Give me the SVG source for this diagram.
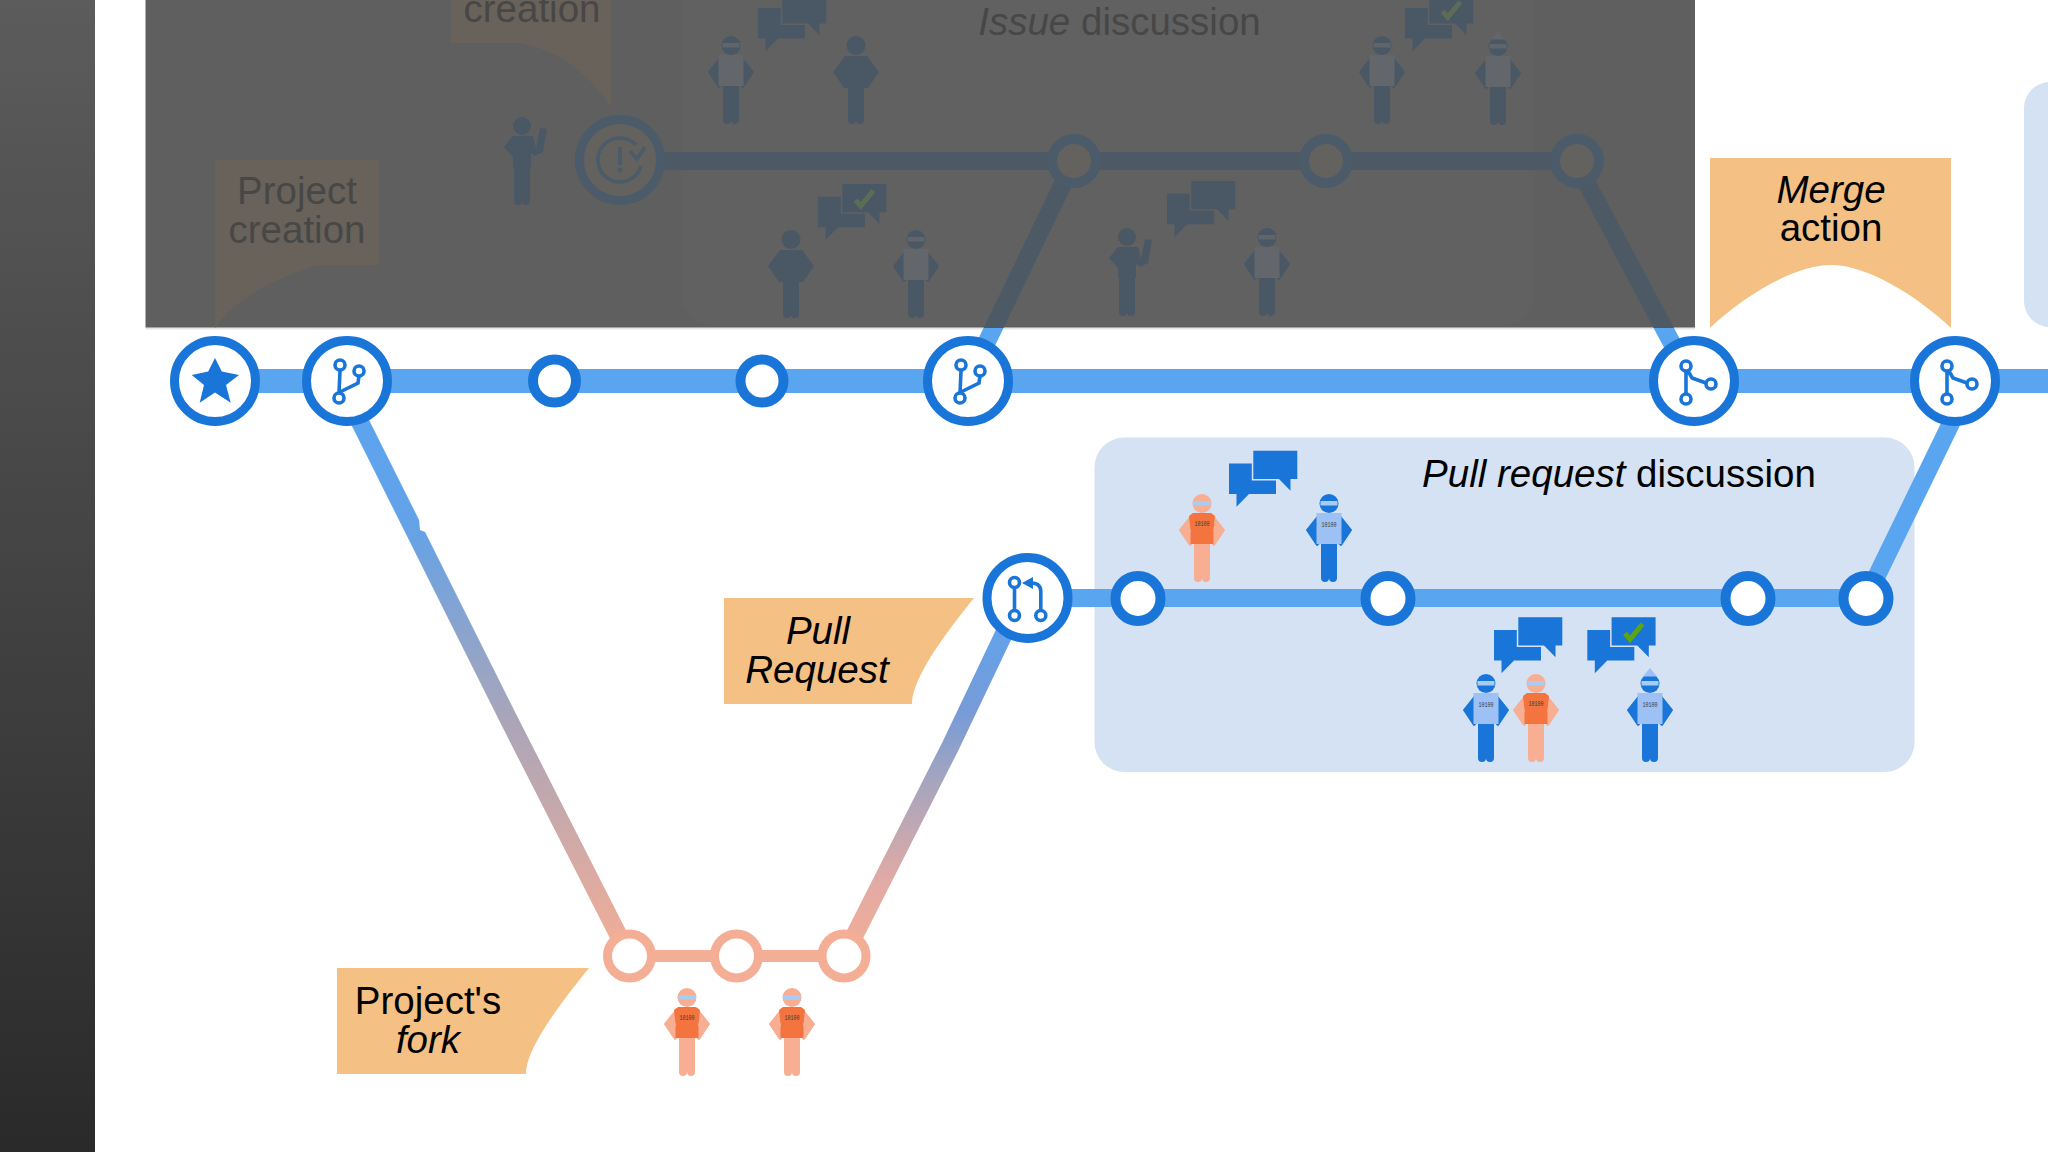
<svg xmlns="http://www.w3.org/2000/svg" width="2048" height="1152" viewBox="0 0 2048 1152">
<style>
text{font-family:"Liberation Sans",Arial,sans-serif;font-size:38.500px;fill:#000;text-anchor:middle}
text.k{fill:#474747}
.i{font-style:italic}
.lab{fill:#f4c084}
.labd{fill:#68625a}
.panel{fill:#d5e2f3}
.line{fill:none;stroke:#5aa5f0;stroke-width:18}
.lined{fill:none;stroke:#4d5a65;stroke-width:18}
.main{fill:none;stroke:#5aa5f0;stroke-width:24}
.big{fill:#fff;stroke:#1976d8;stroke-width:9}
.bigd{fill:#64625e;stroke:#4c5b69;stroke-width:9}
.small{fill:#fff;stroke:#1976d8;stroke-width:10}
.smalld{fill:#64625e;stroke:#4c5b69;stroke-width:10}
.peach{fill:#fff;stroke:#f4ae96;stroke-width:9}
.ic{fill:none;stroke:#1976d8;stroke-width:3.600}
.icx{fill:none;stroke:#4c5b69;stroke-width:3.600}
.icd{fill:#fff;stroke:#1976d8;stroke-width:3.600}
.blue{fill:#1976d8}
.db{fill:#4a5866}
.arm{fill:#1976d8;stroke:#1976d8;stroke-width:2;stroke-linejoin:round}
.armd{fill:#4a5866;stroke:#4a5866;stroke-width:2;stroke-linejoin:round}
.skin{fill:#f7ae93}
.arms{fill:#f7ae93;stroke:#f7ae93;stroke-width:2;stroke-linejoin:round}
.tb{fill:#9dc0f5}
.dt{fill:#63666b}
.gl{fill:#a8cdf5}
.gld{fill:#5f656b}
.to{fill:#f3743f}
text.code{font-family:"Liberation Mono",monospace;font-size:7px;fill:#3a3a3a}
.bub{fill:#1976d8;stroke:#d5e2f3;stroke-width:3;paint-order:stroke}
.bubd{fill:#4a5866;stroke:#616161;stroke-width:3;paint-order:stroke}
.chk{fill:none;stroke:#5fa50f;stroke-width:5}
.chkd{fill:none;stroke:#5d6c55;stroke-width:5}
</style>
<defs>
<linearGradient id="band" x1="0" y1="0" x2="0" y2="1"><stop offset="0" stop-color="#5c5c5c"/><stop offset="1" stop-color="#2a2a2a"/></linearGradient>
<linearGradient id="gr1" gradientUnits="userSpaceOnUse" x1="0" y1="381" x2="0" y2="956"><stop offset="0" stop-color="#5aa5f0"/><stop offset=".24" stop-color="#62a2e8"/><stop offset=".59" stop-color="#aaa5b9"/><stop offset="1" stop-color="#f4ae96"/></linearGradient>
<linearGradient id="gr2" gradientUnits="userSpaceOnUse" x1="0" y1="598" x2="0" y2="956"><stop offset="0" stop-color="#5aa5f0"/><stop offset=".32" stop-color="#789bd7"/><stop offset=".51" stop-color="#a5a5be"/><stop offset=".79" stop-color="#e1aaa5"/><stop offset="1" stop-color="#f4ae96"/></linearGradient>
<linearGradient id="gr3" gradientUnits="userSpaceOnUse" x1="0" y1="161" x2="0" y2="381"><stop offset=".757" stop-color="#4d5a65"/><stop offset=".757" stop-color="#5aa5f0"/></linearGradient>
<path id="legs" d="M-8,50H8V84A4,4 0 0 1 0,84A4,4 0 0 1 -8,84Z"/>
<path id="arms2" d="M-10,21L-22,36L-12,51L-9,48L-13,36L-8,27ZM10,21L22,36L12,51L9,48L13,36L8,27Z"/>
<g id="p-blue">
<use href="#legs" class="blue"/>
<use href="#arms2" class="arm"/>
<path class="tb" d="M-12.500,19H12.500V50H-12.500Z"/>
<circle class="blue" cx="0" cy="9.500" r="9.500"/>
<rect class="gl" x="-8.500" y="7" width="17" height="4.500"/>
<text class="code" x="0" y="33" textLength="15" lengthAdjust="spacingAndGlyphs">10100</text>
</g>
<g id="p-hat"><use href="#p-blue"/><path class="tb" d="M0,-6L7,2.500H-7Z"/></g>
<g id="p-orange">
<path class="skin" d="M-8,48H8V84A4,4 0 0 1 0,84A4,4 0 0 1 -8,84Z"/>
<use href="#arms2" class="arms"/>
<path class="to" d="M-9,19H9L13,22L11.500,36V50H-11.500V36L-13,22Z"/>
<circle class="skin" cx="0" cy="9.500" r="9.500"/>
<rect class="gl" x="-8.500" y="7" width="17" height="4.500"/>
<text class="code" x="0" y="32" textLength="15" lengthAdjust="spacingAndGlyphs">10100</text>
</g>
<g id="d-blue">
<use href="#legs" class="db"/>
<use href="#arms2" class="armd"/>
<path class="dt" d="M-12.500,19H12.500V50H-12.500Z"/>
<circle class="db" cx="0" cy="9.500" r="9.500"/>
<rect class="gld" x="-8.500" y="7" width="17" height="4.500"/>
</g>
<g id="d-hat"><use href="#d-blue"/><path class="dt" d="M0,-6L7,2.500H-7Z"/></g>
<g id="d-plain">
<use href="#legs" class="db"/>
<path class="db" d="M-11,20H11L23,36L12,52H-12L-23,36Z"/>
<circle class="db" cx="0" cy="9.500" r="9.500"/>
</g>
<g id="d-raise">
<path class="db" d="M-8,42H8V84A4,4 0 0 1 0,84A4,4 0 0 1 -8,84Z"/>
<path class="db" d="M-9,19H11L14,31L18,11L25,12L21,35L13,39L9,36V50H-9V40L-18,30Z"/>
<circle class="db" cx="0" cy="9" r="9"/>
</g>
<g id="bub-plain">
<path class="bub" d="M0,12.700H47V43.300H20L7.500,56V43.300H0Z"/>
<path class="bub" d="M24.300,0H68.300V28.300H61.500V40L50,28.300H24.300Z"/>
</g>
<g id="bub-ok">
<use href="#bub-plain"/>
<path class="chk" d="M37.700,16L42.700,22L55.300,6.700"/>
</g>
<g id="dbub-plain">
<path class="bubd" d="M0,12.700H47V43.300H20L7.500,56V43.300H0Z"/>
<path class="bubd" d="M24.300,0H68.300V28.300H61.500V40L50,28.300H24.300Z"/>
</g>
<g id="dbub-ok">
<use href="#dbub-plain"/>
<path class="chkd" d="M37.700,16L42.700,22L55.300,6.700"/>
</g>
<g id="ic-branch">
<path class="ic" d="M-7,-10L-8,12M12,-5L11,2L-7,11"/>
<circle class="icd" cx="-7" cy="-16" r="5"/><circle class="icd" cx="12" cy="-10" r="5"/><circle class="icd" cx="-8" cy="17" r="5"/>
</g>
<g id="ic-merge">
<path class="ic" d="M-8,-10V12M-6,-10L-2,-3L12,2"/>
<circle class="icd" cx="-8" cy="-15" r="5"/><circle class="icd" cx="17" cy="3" r="5"/><circle class="icd" cx="-8" cy="18" r="5"/>
</g>
</defs>
<rect width="2048" height="1152" fill="#fff"/>
<rect id="band-left" width="95" height="1152" fill="url(#band)"/>
<g id="overlay">
<rect x="145.500" y="0" width="1549.500" height="327.500" fill="#5f5f5f"/>
<rect x="145.500" y="327.500" width="1549.500" height="2" fill="#000" fill-opacity=".1"/>
</g>

<g id="panels">
<rect id="issue-panel" x="681" y="-60" width="854" height="385" rx="30" fill="#616161"/>
<rect id="pr-panel" class="panel" x="1094.500" y="437.500" width="820" height="334.500" rx="30"/>
<rect id="next-panel" class="panel" x="2024" y="82" width="60" height="245" rx="26"/>
</g>

<g id="connectors">
<path class="main" d="M215,381H2048"/>
<path d="M344,390L509,720L629,956" fill="none" stroke="url(#gr1)" stroke-width="18"/>
<path d="M844,956L950,747L1021,598" fill="none" stroke="url(#gr2)" stroke-width="18"/>
<path d="M629,956H844" fill="none" stroke="#f4ae96" stroke-width="12"/>
<path class="line" d="M1027,598H1866"/>
<path class="line" d="M1866,598L1955,415"/>
<path class="lined" d="M620,161H1577"/>
<path d="M1074,161L968,381" fill="none" stroke="url(#gr3)" stroke-width="18"/>
<path d="M1575,161L1692,381" fill="none" stroke="url(#gr3)" stroke-width="18"/>
<path d="M419,519L420,530L425,532L429,530Z" fill="#fff"/>
</g>

<g id="label-project-creation"><path class="labd" d="M215,160H379V265H318C270,280 235,300 215,328Z"/><text class="k" x="297" y="204">Project</text><text class="k" x="297" y="243">creation</text></g>
<g id="label-issue-creation"><path class="labd" d="M451,-10H611V107C590,75 560,50 519,43H451Z"/><text class="k" x="532" y="22">creation</text></g>
<g id="label-merge"><path class="lab" d="M1710,158H1951V328C1916,295 1867,265 1831,265C1795,265 1745,295 1710,328Z"/><text class="i" x="1831" y="203">Merge</text><text x="1831" y="241">action</text></g>
<g id="label-pr"><path class="lab" d="M724,598H974C940,640 912,680 912,704H724Z"/><text class="i" x="818" y="644">Pull</text><text class="i" x="817" y="683">Request</text></g>
<g id="label-fork"><path class="lab" d="M337,968H589C555,1010 526,1050 526,1074H337Z"/><text x="428" y="1014">Project's</text><text class="i" x="428" y="1053">fork</text></g>
<text id="issue-title" class="k" x="1119.500" y="35"><tspan class="i">Issue</tspan> discussion</text>
<text id="pr-title" x="1619" y="487"><tspan class="i">Pull request</tspan> discussion</text>

<g id="node-start"><circle class="big" cx="215" cy="381" r="40.500"/><polygon class="blue" points="215,358 221.800,371.500 239,375 226,385 230.700,402.800 215,392.500 199.700,402.800 204,385 191.700,375 208.200,371.500"/></g>
<g id="node-fork-1"><circle class="big" cx="347" cy="381" r="40.500"/><use href="#ic-branch" x="347" y="381"/></g>
<g id="node-c1"><circle class="small" cx="554.500" cy="381" r="21.500"/></g>
<g id="node-c2"><circle class="small" cx="762" cy="381" r="21.500"/></g>
<g id="node-fork-2"><circle class="big" cx="968" cy="381" r="40.500"/><use href="#ic-branch" x="968" y="381"/></g>
<g id="node-merge-1"><circle class="big" cx="1694" cy="381" r="40.500"/><use href="#ic-merge" x="1694" y="381"/></g>
<g id="node-merge-2"><circle class="big" cx="1955" cy="381" r="40.500"/><use href="#ic-merge" x="1955" y="381"/></g>
<g id="node-f1"><circle class="peach" cx="629.500" cy="956" r="22"/></g>
<g id="node-f2"><circle class="peach" cx="736.500" cy="956" r="22"/></g>
<g id="node-f3"><circle class="peach" cx="844" cy="956" r="22"/></g>
<g id="node-pr"><circle class="big" cx="1027.500" cy="598" r="40.500"/>
<path class="ic" d="M-13,-10V12M13.300,12V-6Q13.300,-15 4,-15" transform="translate(1027.500 598)"/>
<path class="blue" d="M1022,583L1033,577V589Z"/>
<circle class="icd" cx="1014.500" cy="582.500" r="5"/><circle class="icd" cx="1014.500" cy="615.500" r="5"/><circle class="icd" cx="1040.800" cy="615.500" r="5"/></g>
<g id="node-p1"><circle class="small" cx="1138" cy="598.500" r="22.500"/></g>
<g id="node-p2"><circle class="small" cx="1388" cy="598.500" r="22.500"/></g>
<g id="node-p3"><circle class="small" cx="1748" cy="598.500" r="22.500"/></g>
<g id="node-p4"><circle class="small" cx="1866" cy="598.500" r="22.500"/></g>
<g id="node-issue"><circle class="bigd" cx="620" cy="160" r="40.500"/>
<path class="icx" d="M636,145A22,22 0 1 0 641,166"/>
<path class="icx" d="M630,151L637,159L645,147"/>
<rect x="618" y="147" width="4" height="18" fill="#4c5b69"/><circle cx="620" cy="170" r="2.500" fill="#4c5b69"/></g>
<g id="node-i1"><circle class="smalld" cx="1074" cy="161" r="22"/></g>
<g id="node-i2"><circle class="smalld" cx="1326" cy="161" r="22"/></g>
<g id="node-i3"><circle class="smalld" cx="1577" cy="161" r="22"/></g>

<g id="people">
<use href="#p-orange" x="687" y="988"/><use href="#p-orange" x="792" y="988"/>
<use href="#p-orange" x="1202" y="494"/><use href="#p-blue" x="1329" y="494"/>
<use href="#p-blue" x="1486" y="674"/><use href="#p-orange" x="1536" y="674"/><use href="#p-hat" x="1650" y="674"/>
<use href="#d-raise" x="522" y="117"/>
<use href="#d-blue" x="731" y="36"/><use href="#d-plain" x="856" y="36"/>
<use href="#d-blue" x="1382" y="36"/><use href="#d-hat" x="1498" y="37"/>
<use href="#d-plain" x="791" y="230"/><use href="#d-blue" x="916" y="230"/>
<use href="#d-raise" x="1127" y="228"/><use href="#d-blue" x="1267" y="228"/>
</g>
<g id="bubbles">
<use href="#bub-plain" x="1229" y="450.700"/>
<use href="#bub-plain" x="1494" y="617.300"/>
<use href="#bub-ok" x="1587.300" y="617.300"/>
<use href="#dbub-plain" x="758" y="-4.700"/>
<use href="#dbub-ok" x="1405" y="-4.700"/>
<use href="#dbub-ok" x="818" y="184"/>
<use href="#dbub-plain" x="1167" y="181"/>
</g>
</svg>
